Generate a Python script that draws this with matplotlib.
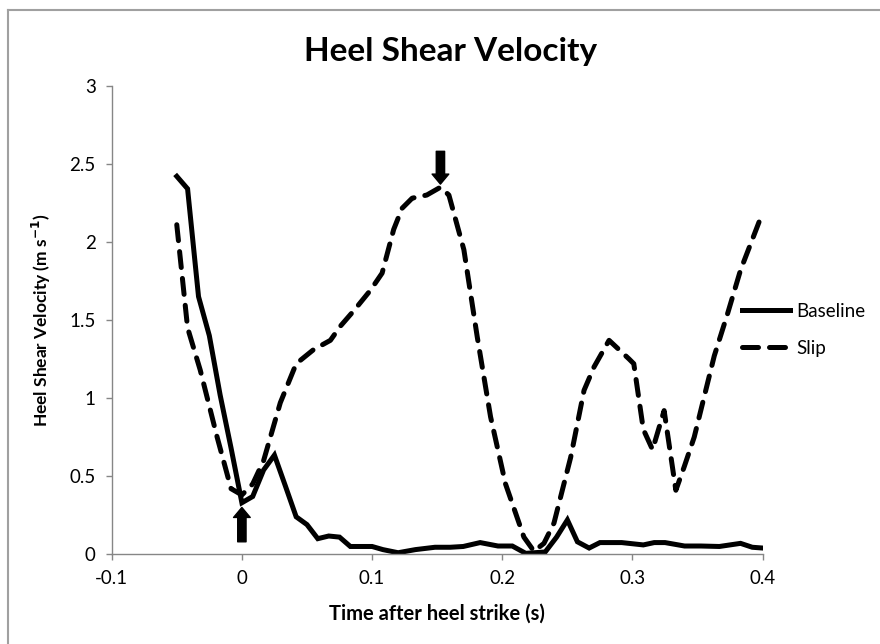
import matplotlib
matplotlib.use('Agg')
import matplotlib.pyplot as plt
from matplotlib.lines import Line2D

# Baseline trial (solid)
baseTime = [-0.05, -0.0417, -0.0333, -0.025, -0.0167, -0.0083, 0.0, 0.0083, 0.0167,
            0.025, 0.0333, 0.0417, 0.05, 0.0583, 0.0667, 0.075, 0.0833, 0.1, 0.1083,
            0.12, 0.1333, 0.1483, 0.16, 0.17, 0.183, 0.1967, 0.2077, 0.218, 0.233,
            0.2417, 0.25, 0.2577, 0.2667, 0.275, 0.2917, 0.3083, 0.3167, 0.325,
            0.34, 0.3525, 0.3667, 0.383, 0.392, 0.4]
baseVel = [2.42, 2.34, 1.65, 1.40, 1.02, 0.68, 0.33, 0.37, 0.54,
           0.635, 0.44, 0.24, 0.19, 0.10, 0.117, 0.11, 0.05, 0.05, 0.03,
           0.01, 0.03, 0.045, 0.045, 0.05, 0.075, 0.053, 0.053, 0.006, 0.015,
           0.11, 0.22, 0.08, 0.04, 0.075, 0.075, 0.06, 0.075, 0.075,
           0.053, 0.053, 0.05, 0.07, 0.045, 0.04]

# Slip trial (dashed)
slipTime = [-0.05, -0.0417, -0.032, -0.019, -0.0083, 0.0, 0.0083, 0.0167, 0.0295,
            0.0417, 0.055, 0.068, 0.0756, 0.086, 0.0987, 0.1077, 0.1166, 0.123,
            0.1308, 0.142, 0.1525, 0.159, 0.1705, 0.1808, 0.191, 0.2025, 0.2166,
            0.2243, 0.232, 0.2397, 0.2525, 0.2628, 0.2705, 0.282, 0.2974, 0.301,
            0.3083, 0.3154, 0.3243, 0.3333, 0.3397, 0.3474, 0.3628, 0.373, 0.383,
            0.3987]
slipVel = [2.11, 1.45, 1.18, 0.75, 0.42, 0.38, 0.45, 0.60, 0.97,
           1.22, 1.31, 1.37, 1.46, 1.56, 1.69, 1.80, 2.08, 2.215,
           2.28, 2.30, 2.35, 2.30, 1.95, 1.39, 0.88, 0.45, 0.11,
           0.02, 0.07, 0.2, 0.62, 1.05, 1.20, 1.37, 1.25, 1.22,
           0.80, 0.67, 0.92, 0.41, 0.56, 0.75, 1.27, 1.54, 1.82,
           2.16]

xTicks = [-0.1, 0.0, 0.1, 0.2, 0.3, 0.4]
xTickLabels = ['-0.1', '0', '0.1', '0.2', '0.3', '0.4']
yTicks = [0, 0.5, 1, 1.5, 2, 2.5, 3]
yTickLabels = ['0', '0.5', '1', '1.5', '2', '2.5', '3']

# event markers: (x, tail y, head y)
upArrow = (0.0, 0.08, 0.30)
downArrow = (0.1525, 2.58, 2.37)

plt.rcParams['font.family'] = ['Lato', 'DejaVu Sans']

fig = plt.figure(figsize=(8.8, 6.44), dpi=100)
ax = fig.add_axes([0.1269, 0.1393, 0.7398, 0.7276])

ax.plot(baseTime, baseVel, color='black', lw=3.6, solid_joinstyle='miter',
        label='Baseline')
ax.plot(slipTime, slipVel, color='black', lw=3.6, dashes=(3.2, 2.2),
        dash_capstyle='round', label='Slip')

for x, y0, y1 in (upArrow, downArrow):
    ax.annotate('', xy=(x, y1), xytext=(x, y0),
                arrowprops=dict(arrowstyle='simple,head_length=0.6,head_width=1.0,tail_width=0.5',
                                color='black', mutation_scale=12, shrinkA=0, shrinkB=0))

ax.set_xlim(-0.1, 0.4)
ax.set_ylim(0, 3)
ax.set_xticks(xTicks)
ax.set_xticklabels(xTickLabels)
ax.set_yticks(yTicks)
ax.set_yticklabels(yTickLabels)
ax.tick_params(labelsize=13.5, length=4.5, width=1, color='#868686', pad=7)

for side in ['top', 'right']:
    ax.spines[side].set_visible(False)
for side in ['left', 'bottom']:
    ax.spines[side].set_color('#868686')
    ax.spines[side].set_linewidth(1)

ax.set_title('Heel Shear Velocity', fontsize=24, fontweight='bold', pad=18, x=0.52)
ax.set_xlabel('Time after heel strike (s)', fontsize=14.5, fontweight='bold', labelpad=12)
ax.set_ylabel('Heel Shear Velocity (m s$^{\\mathbf{-1}}$)', fontsize=12.5,
              fontweight='bold', labelpad=12)

fig.legend(loc='center left', bbox_to_anchor=(0.8432, 0.488), frameon=False,
           fontsize=13.5, handlelength=2.56, handletextpad=0.35, labelspacing=1.05,
           borderaxespad=0, borderpad=0)

# outer chart frame (only top and left edges are visible in the crop)
fig.add_artist(Line2D([0.009, 0.009], [0.0, 0.985], transform=fig.transFigure,
                      color='#a0a0a0', lw=1.5))
fig.add_artist(Line2D([0.009, 1.0], [0.985, 0.985], transform=fig.transFigure,
                      color='#a0a0a0', lw=1.5))

fig.savefig('out.png', dpi=100)
